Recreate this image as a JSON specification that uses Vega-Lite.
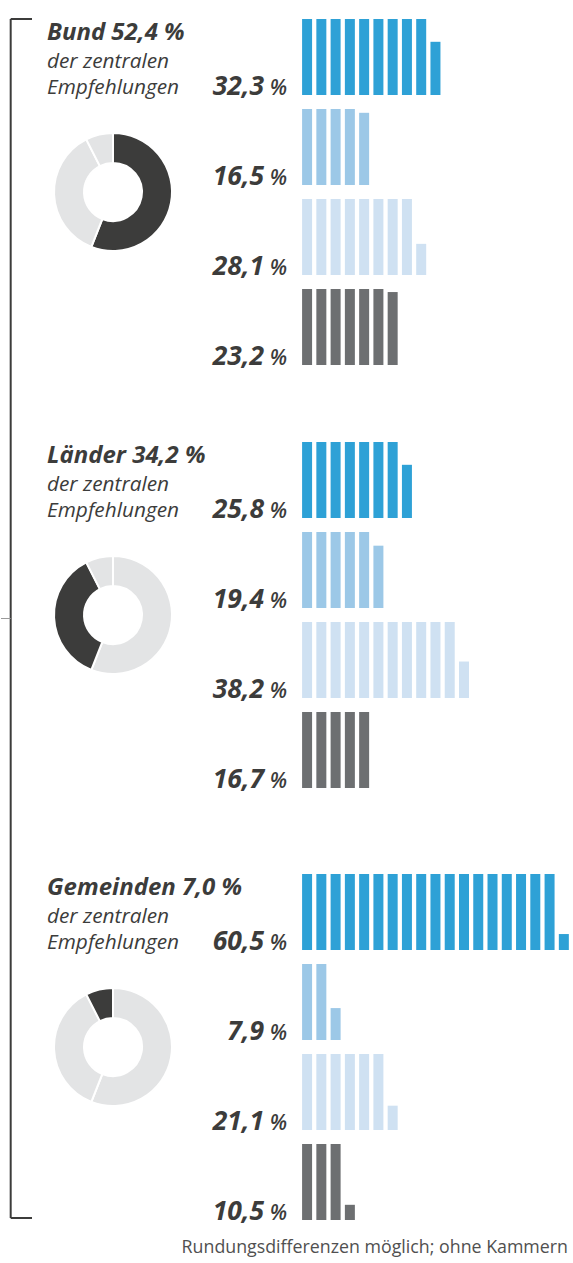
{
  "$schema": "https://vega.github.io/schema/vega-lite/v6.json",
  "background": "#ffffff",
  "padding": {"top": 18, "left": 0, "right": 0, "bottom": 0},
  "config": {"view": {"stroke": null}, "font": "Open Sans"},
  "datasets": {
    "donut": [
      {"s": "Bund", "v": 52.4, "k": 1},
      {"s": "Länder", "v": 34.2, "k": 2},
      {"s": "Gemeinden", "v": 7.0, "k": 3}
    ],
    "bars": [
      {"g":"B","c":"a","lab":"32,3"},{"g":"B","c":"b","lab":"16,5"},{"g":"B","c":"c","lab":"28,1"},{"g":"B","c":"d","lab":"23,2"},
      {"g":"L","c":"a","lab":"25,8"},{"g":"L","c":"b","lab":"19,4"},{"g":"L","c":"c","lab":"38,2"},{"g":"L","c":"d","lab":"16,7"},
      {"g":"G","c":"a","lab":"60,5"},{"g":"G","c":"b","lab":"7,9"},{"g":"G","c":"c","lab":"21,1"},{"g":"G","c":"d","lab":"10,5"},
      {"g":"B","c":"a","i":0,"h":1},{"g":"B","c":"a","i":1,"h":1},{"g":"B","c":"a","i":2,"h":1},{"g":"B","c":"a","i":3,"h":1},{"g":"B","c":"a","i":4,"h":1},{"g":"B","c":"a","i":5,"h":1},{"g":"B","c":"a","i":6,"h":1},{"g":"B","c":"a","i":7,"h":1},{"g":"B","c":"a","i":8,"h":1},{"g":"B","c":"a","i":9,"h":0.70},
      {"g":"B","c":"b","i":0,"h":1},{"g":"B","c":"b","i":1,"h":1},{"g":"B","c":"b","i":2,"h":1},{"g":"B","c":"b","i":3,"h":1},{"g":"B","c":"b","i":4,"h":0.95},
      {"g":"B","c":"c","i":0,"h":1},{"g":"B","c":"c","i":1,"h":1},{"g":"B","c":"c","i":2,"h":1},{"g":"B","c":"c","i":3,"h":1},{"g":"B","c":"c","i":4,"h":1},{"g":"B","c":"c","i":5,"h":1},{"g":"B","c":"c","i":6,"h":1},{"g":"B","c":"c","i":7,"h":1},{"g":"B","c":"c","i":8,"h":0.41},
      {"g":"B","c":"d","i":0,"h":1},{"g":"B","c":"d","i":1,"h":1},{"g":"B","c":"d","i":2,"h":1},{"g":"B","c":"d","i":3,"h":1},{"g":"B","c":"d","i":4,"h":1},{"g":"B","c":"d","i":5,"h":1},{"g":"B","c":"d","i":6,"h":0.96},
      {"g":"L","c":"a","i":0,"h":1},{"g":"L","c":"a","i":1,"h":1},{"g":"L","c":"a","i":2,"h":1},{"g":"L","c":"a","i":3,"h":1},{"g":"L","c":"a","i":4,"h":1},{"g":"L","c":"a","i":5,"h":1},{"g":"L","c":"a","i":6,"h":1},{"g":"L","c":"a","i":7,"h":0.70},
      {"g":"L","c":"b","i":0,"h":1},{"g":"L","c":"b","i":1,"h":1},{"g":"L","c":"b","i":2,"h":1},{"g":"L","c":"b","i":3,"h":1},{"g":"L","c":"b","i":4,"h":1},{"g":"L","c":"b","i":5,"h":0.82},
      {"g":"L","c":"c","i":0,"h":1},{"g":"L","c":"c","i":1,"h":1},{"g":"L","c":"c","i":2,"h":1},{"g":"L","c":"c","i":3,"h":1},{"g":"L","c":"c","i":4,"h":1},{"g":"L","c":"c","i":5,"h":1},{"g":"L","c":"c","i":6,"h":1},{"g":"L","c":"c","i":7,"h":1},{"g":"L","c":"c","i":8,"h":1},{"g":"L","c":"c","i":9,"h":1},{"g":"L","c":"c","i":10,"h":1},{"g":"L","c":"c","i":11,"h":0.48},
      {"g":"L","c":"d","i":0,"h":1},{"g":"L","c":"d","i":1,"h":1},{"g":"L","c":"d","i":2,"h":1},{"g":"L","c":"d","i":3,"h":1},{"g":"L","c":"d","i":4,"h":1},
      {"g":"G","c":"a","i":0,"h":1},{"g":"G","c":"a","i":1,"h":1},{"g":"G","c":"a","i":2,"h":1},{"g":"G","c":"a","i":3,"h":1},{"g":"G","c":"a","i":4,"h":1},{"g":"G","c":"a","i":5,"h":1},{"g":"G","c":"a","i":6,"h":1},{"g":"G","c":"a","i":7,"h":1},{"g":"G","c":"a","i":8,"h":1},{"g":"G","c":"a","i":9,"h":1},{"g":"G","c":"a","i":10,"h":1},{"g":"G","c":"a","i":11,"h":1},{"g":"G","c":"a","i":12,"h":1},{"g":"G","c":"a","i":13,"h":1},{"g":"G","c":"a","i":14,"h":1},{"g":"G","c":"a","i":15,"h":1},{"g":"G","c":"a","i":16,"h":1},{"g":"G","c":"a","i":17,"h":1},{"g":"G","c":"a","i":18,"h":0.21},
      {"g":"G","c":"b","i":0,"h":1},{"g":"G","c":"b","i":1,"h":1},{"g":"G","c":"b","i":2,"h":0.42},
      {"g":"G","c":"c","i":0,"h":1},{"g":"G","c":"c","i":1,"h":1},{"g":"G","c":"c","i":2,"h":1},{"g":"G","c":"c","i":3,"h":1},{"g":"G","c":"c","i":4,"h":1},{"g":"G","c":"c","i":5,"h":1},{"g":"G","c":"c","i":6,"h":0.32},
      {"g":"G","c":"d","i":0,"h":1},{"g":"G","c":"d","i":1,"h":1},{"g":"G","c":"d","i":2,"h":1},{"g":"G","c":"d","i":3,"h":0.20}
    ]
  },
  "title": {"text": "Rundungsdifferenzen möglich; ohne Kammern", "orient": "bottom", "anchor": "end", "font": "Open Sans", "fontSize": 17.8, "fontWeight": "normal", "fontStyle": "normal", "color": "#505050", "offset": 13, "dx": -6},
  "spacing": 0,
  "bounds": "flush",
  "hconcat": [
    {
      "width": 31, "height": 1199,
      "data": {"values": [{}]},
      "layer": [
        {"mark": {"type": "rule", "color": "#3c3c3b", "strokeWidth": 2},
         "encoding": {"x": {"datum": 0, "type": "quantitative", "scale": {"domain": [-1, 2.2], "nice": false, "zero": false}, "axis": null},
                      "y": {"datum": 0, "type": "quantitative", "scale": {"domain": [0, 1], "nice": false, "zero": false}, "axis": null},
                      "y2": {"datum": 1}}},
        {"mark": {"type": "rule", "color": "#3c3c3b", "strokeWidth": 2},
         "encoding": {"x": {"datum": 0, "type": "quantitative"}, "x2": {"datum": 2.2}, "y": {"datum": 1, "type": "quantitative"}}},
        {"mark": {"type": "rule", "color": "#3c3c3b", "strokeWidth": 2},
         "encoding": {"x": {"datum": 0, "type": "quantitative"}, "x2": {"datum": 2.2}, "y": {"datum": 0, "type": "quantitative"}}},
        {"mark": {"type": "rule", "color": "#9a9a9a", "strokeWidth": 1},
         "encoding": {"x": {"datum": -1, "type": "quantitative"}, "x2": {"datum": 0}, "y": {"datum": 0.5, "type": "quantitative"}}}
      ]
    },
    {
      "spacing": 80,
      "vconcat": [
        {
          "spacing": 71,
          "vconcat": [
            {
              "spacing": 0, "bounds": "flush",
              "hconcat": [
                {
                  "width": 162, "height": 346,
                  "data": {"name": "donut"},
                  "title": {"text": "Bund 52,4 %", "subtitle": ["der zentralen", "Empfehlungen"], "anchor": "start", "frame": "group", "orient": "top", "offset": -78.5, "dx": 15, "font": "Open Sans", "fontSize": 24, "fontStyle": "italic", "fontWeight": "bold", "color": "#3c3c3b", "subtitleFont": "Open Sans", "subtitleFontSize": 20.8, "subtitleFontStyle": "italic", "subtitleFontWeight": "normal", "subtitleColor": "#3c3c3b", "subtitlePadding": 6.5, "subtitleLineHeight": 26},
                  "mark": {"type": "arc", "innerRadius": 29, "outerRadius": 59, "stroke": "#ffffff", "strokeWidth": 2},
                  "encoding": {
                    "theta": {"field": "v", "type": "quantitative", "stack": true},
                    "order": {"field": "k", "type": "quantitative"},
                    "detail": {"field": "s", "type": "nominal"},
                    "color": {"condition": {"test": "datum.s === 'Bund'", "value": "#3c3c3b"}, "value": "#e3e4e5"}
                  }
                },
                {
                  "data": {"name": "bars"},
                  "transform": [{"filter": "datum.g === 'B'"}],
                  "facet": {"row": {"field": "c", "type": "nominal", "header": null}},
                  "spacing": {"row": 14},
                  "bounds": "flush",
                  "spec": {
                    "width": 380, "height": 76,
                    "layer": [
                      {"transform": [{"filter": "isValid(datum.h)"}],
                       "mark": {"type": "bar", "width": 10, "orient": "vertical"},
                       "encoding": {
                         "x": {"field": "i", "type": "quantitative", "scale": {"domain": [-7.577, 18.362], "nice": false, "zero": false}, "axis": null},
                         "y": {"field": "h", "type": "quantitative", "scale": {"domain": [0, 1], "nice": false}, "axis": null},
                         "color": {"field": "c", "type": "nominal", "scale": {"domain": ["a", "b", "c", "d"], "range": ["#2ea1d6", "#9cc8e7", "#cfe1f2", "#6d6f71"]}, "legend": null}
                       }},
                      {"transform": [{"filter": "isValid(datum.lab)"}],
                       "mark": {"type": "text", "align": "right", "baseline": "alphabetic", "dx": -43, "font": "Open Sans", "fontSize": 26.5, "fontStyle": "italic", "fontWeight": "bold", "color": "#3c3c3b"},
                       "encoding": {"x": {"datum": 0, "type": "quantitative"}, "y": {"datum": 0, "type": "quantitative"}, "text": {"field": "lab"}}},
                      {"transform": [{"filter": "isValid(datum.lab)"}],
                       "mark": {"type": "text", "align": "right", "baseline": "alphabetic", "dx": -20, "font": "Open Sans", "fontSize": 21, "fontStyle": "italic", "fontWeight": 600, "color": "#3c3c3b"},
                       "encoding": {"x": {"datum": 0, "type": "quantitative"}, "y": {"datum": 0, "type": "quantitative"}, "text": {"value": "%"}}}
                    ]
                  }
                }
              ]
            },
            {
              "spacing": 0, "bounds": "flush",
              "hconcat": [
                {
                  "width": 162, "height": 346,
                  "data": {"name": "donut"},
                  "title": {"text": "Länder 34,2 %", "subtitle": ["der zentralen", "Empfehlungen"], "anchor": "start", "frame": "group", "orient": "top", "offset": -78.5, "dx": 15, "font": "Open Sans", "fontSize": 24, "fontStyle": "italic", "fontWeight": "bold", "color": "#3c3c3b", "subtitleFont": "Open Sans", "subtitleFontSize": 20.8, "subtitleFontStyle": "italic", "subtitleFontWeight": "normal", "subtitleColor": "#3c3c3b", "subtitlePadding": 6.5, "subtitleLineHeight": 26},
                  "mark": {"type": "arc", "innerRadius": 29, "outerRadius": 59, "stroke": "#ffffff", "strokeWidth": 2},
                  "encoding": {
                    "theta": {"field": "v", "type": "quantitative", "stack": true},
                    "order": {"field": "k", "type": "quantitative"},
                    "detail": {"field": "s", "type": "nominal"},
                    "color": {"condition": {"test": "datum.s === 'Länder'", "value": "#3c3c3b"}, "value": "#e3e4e5"}
                  }
                },
                {
                  "data": {"name": "bars"},
                  "transform": [{"filter": "datum.g === 'L'"}],
                  "facet": {"row": {"field": "c", "type": "nominal", "header": null}},
                  "spacing": {"row": 14},
                  "bounds": "flush",
                  "spec": {
                    "width": 380, "height": 76,
                    "layer": [
                      {"transform": [{"filter": "isValid(datum.h)"}],
                       "mark": {"type": "bar", "width": 10, "orient": "vertical"},
                       "encoding": {
                         "x": {"field": "i", "type": "quantitative", "scale": {"domain": [-7.577, 18.362], "nice": false, "zero": false}, "axis": null},
                         "y": {"field": "h", "type": "quantitative", "scale": {"domain": [0, 1], "nice": false}, "axis": null},
                         "color": {"field": "c", "type": "nominal", "scale": {"domain": ["a", "b", "c", "d"], "range": ["#2ea1d6", "#9cc8e7", "#cfe1f2", "#6d6f71"]}, "legend": null}
                       }},
                      {"transform": [{"filter": "isValid(datum.lab)"}],
                       "mark": {"type": "text", "align": "right", "baseline": "alphabetic", "dx": -43, "font": "Open Sans", "fontSize": 26.5, "fontStyle": "italic", "fontWeight": "bold", "color": "#3c3c3b"},
                       "encoding": {"x": {"datum": 0, "type": "quantitative"}, "y": {"datum": 0, "type": "quantitative"}, "text": {"field": "lab"}}},
                      {"transform": [{"filter": "isValid(datum.lab)"}],
                       "mark": {"type": "text", "align": "right", "baseline": "alphabetic", "dx": -20, "font": "Open Sans", "fontSize": 21, "fontStyle": "italic", "fontWeight": 600, "color": "#3c3c3b"},
                       "encoding": {"x": {"datum": 0, "type": "quantitative"}, "y": {"datum": 0, "type": "quantitative"}, "text": {"value": "%"}}}
                    ]
                  }
                }
              ]
            }
          ]
        },
        {
          "spacing": 0, "bounds": "flush",
          "hconcat": [
            {
              "width": 162, "height": 346,
              "data": {"name": "donut"},
              "title": {"text": "Gemeinden 7,0 %", "subtitle": ["der zentralen", "Empfehlungen"], "anchor": "start", "frame": "group", "orient": "top", "offset": -78.5, "dx": 15, "font": "Open Sans", "fontSize": 24, "fontStyle": "italic", "fontWeight": "bold", "color": "#3c3c3b", "subtitleFont": "Open Sans", "subtitleFontSize": 20.8, "subtitleFontStyle": "italic", "subtitleFontWeight": "normal", "subtitleColor": "#3c3c3b", "subtitlePadding": 6.5, "subtitleLineHeight": 26},
              "mark": {"type": "arc", "innerRadius": 29, "outerRadius": 59, "stroke": "#ffffff", "strokeWidth": 2},
              "encoding": {
                "theta": {"field": "v", "type": "quantitative", "stack": true},
                "order": {"field": "k", "type": "quantitative"},
                "detail": {"field": "s", "type": "nominal"},
                "color": {"condition": {"test": "datum.s === 'Gemeinden'", "value": "#3c3c3b"}, "value": "#e3e4e5"}
              }
            },
            {
              "data": {"name": "bars"},
              "transform": [{"filter": "datum.g === 'G'"}],
              "facet": {"row": {"field": "c", "type": "nominal", "header": null}},
              "spacing": {"row": 14},
              "bounds": "flush",
              "spec": {
                "width": 380, "height": 76,
                "layer": [
                  {"transform": [{"filter": "isValid(datum.h)"}],
                   "mark": {"type": "bar", "width": 10, "orient": "vertical"},
                   "encoding": {
                     "x": {"field": "i", "type": "quantitative", "scale": {"domain": [-7.577, 18.362], "nice": false, "zero": false}, "axis": null},
                     "y": {"field": "h", "type": "quantitative", "scale": {"domain": [0, 1], "nice": false}, "axis": null},
                     "color": {"field": "c", "type": "nominal", "scale": {"domain": ["a", "b", "c", "d"], "range": ["#2ea1d6", "#9cc8e7", "#cfe1f2", "#6d6f71"]}, "legend": null}
                   }},
                  {"transform": [{"filter": "isValid(datum.lab)"}],
                   "mark": {"type": "text", "align": "right", "baseline": "alphabetic", "dx": -43, "font": "Open Sans", "fontSize": 26.5, "fontStyle": "italic", "fontWeight": "bold", "color": "#3c3c3b"},
                   "encoding": {"x": {"datum": 0, "type": "quantitative"}, "y": {"datum": 0, "type": "quantitative"}, "text": {"field": "lab"}}},
                  {"transform": [{"filter": "isValid(datum.lab)"}],
                   "mark": {"type": "text", "align": "right", "baseline": "alphabetic", "dx": -20, "font": "Open Sans", "fontSize": 21, "fontStyle": "italic", "fontWeight": 600, "color": "#3c3c3b"},
                   "encoding": {"x": {"datum": 0, "type": "quantitative"}, "y": {"datum": 0, "type": "quantitative"}, "text": {"value": "%"}}}
                ]
              }
            }
          ]
        }
      ]
    }
  ]
}
